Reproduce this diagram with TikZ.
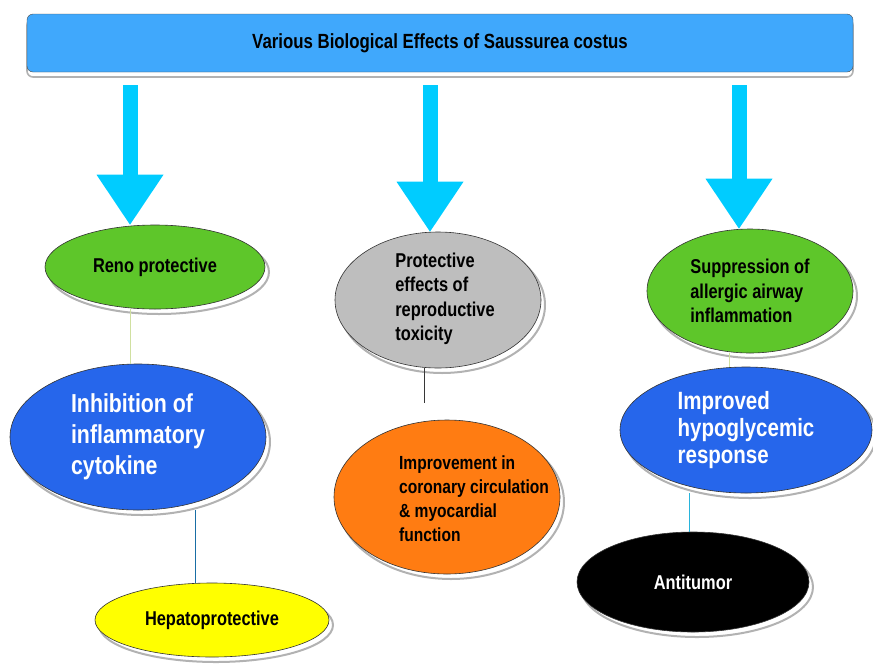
\documentclass[tikz,border=0pt]{standalone}
\usepackage{fontspec}
\setmainfont{Liberation Sans}[FakeStretch=0.82]
\usetikzlibrary{shapes.geometric,shadows,arrows.meta}

\definecolor{bannerblue}{RGB}{64,168,252}
\definecolor{arrowcyan}{RGB}{0,204,255}
\definecolor{leafgreen}{RGB}{94,198,42}
\definecolor{effectblue}{RGB}{38,102,235}
\definecolor{effectorange}{RGB}{255,124,18}
\definecolor{effectgray}{RGB}{190,190,190}
\definecolor{effectyellow}{RGB}{255,255,0}
\definecolor{linkpale}{RGB}{208,224,160}
\definecolor{linkteal}{RGB}{25,110,165}
\definecolor{linkdark}{RGB}{55,55,55}
\definecolor{linkcyan}{RGB}{40,180,220}

\tikzset{
  effect/.style={ellipse, draw=black!80, line width=0.6pt, inner sep=0pt,
    align=left, font=\bfseries\fontsize{20}{24.5}\selectfont,
    copy shadow={shadow xshift=4pt, shadow yshift=-5pt, fill=white,
      draw=black!30, line width=2pt}},
  bigarrow/.style={line width=15pt, arrowcyan,
    -{Triangle[length=50pt,width=67pt,line width=0pt]}},
  link/.style={line width=0.7pt}
}

\begin{document}
\begin{tikzpicture}[x=1pt,y=-1pt]
  \useasboundingbox (0,0) rectangle (873,665);

  %% Title banner
  \node[draw=black!70, fill=bannerblue, rounded corners=6pt, inner sep=0pt,
    minimum width=826pt, minimum height=58pt,
    font=\bfseries\fontsize{20.5}{24}\selectfont,
    copy shadow={shadow xshift=0pt, shadow yshift=-5pt, fill=white,
      draw=gray!60, line width=1.6pt}]
    (banner) at (440,43) {Various Biological Effects of Saussurea costus};

  %% Column positions of the big arrows
  \coordinate (colA) at (130,0);
  \coordinate (colB) at (430,0);
  \coordinate (colC) at (739,0);

  %% Effects, left column
  \node[effect, fill=leafgreen, minimum width=220pt, minimum height=84pt]
    (reno) at (155,267) {Reno protective};
  \node[effect, fill=effectblue, text=white, minimum width=256pt, minimum height=146pt,
    font=\bfseries\fontsize{26}{31}\selectfont]
    (inhib) at (138,437) {Inhibition of\\inflammatory\\cytokine};
  \node[effect, fill=effectyellow, minimum width=234pt, minimum height=74pt]
    (hepato) at (212,620) {Hepatoprotective};

  %% Effects, middle column
  \node[effect, fill=effectgray, minimum width=206pt, minimum height=136pt]
    (repro) at (438,300) {};
  \node[align=left, font=\bfseries\fontsize{20}{24.5}\selectfont]
    (reprotext) at (445,299) {Protective\\effects of\\reproductive\\toxicity};
  \node[effect, fill=effectorange, minimum width=226pt, minimum height=154pt]
    (coronary) at (447,497) {};
  \node[align=left, font=\bfseries\fontsize{19}{24}\selectfont]
    (coronarytext) at (474,499) {Improvement in\\coronary circulation\\\& myocardial\\function};

  %% Effects, right column
  \node[effect, fill=leafgreen, minimum width=206pt, minimum height=124pt]
    (airway) at (750,291) {Suppression of\\allergic airway\\inflammation};
  \node[effect, fill=effectblue, text=white, minimum width=252pt, minimum height=126pt,
    font=\bfseries\fontsize{25}{27}\selectfont]
    (hypo) at (746,430) {Improved\\hypoglycemic\\response};
  \node[effect, fill=black, text=white, minimum width=232pt, minimum height=100pt]
    (antitumor) at (693,582) {Antitumor};

  %% Big arrows from the banner
  \foreach \col/\dst in {colA/reno, colB/repro, colC/airway}
  {
    \draw[bigarrow, shorten <=13pt] (banner.south -| \col) -- (\dst.north -| \col);
  }

  %% Thin links between effects
  \coordinate (linkA) at (130,0);
  \coordinate (linkB) at (195,0);
  \coordinate (linkC) at (424,0);
  \coordinate (linkD) at (729,0);
  \coordinate (linkE) at (689,0);
  \draw[link, linkpale] (reno.south -| linkA) -- (inhib.north -| linkA);
  \draw[link, linkteal] (inhib.south -| linkB) -- (hepato.north -| linkB);
  \draw[link, linkdark, shorten >=17pt] (repro.south -| linkC) -- (coronary.north -| linkC);
  \draw[link, linkpale] (airway.south -| linkD) -- (hypo.north -| linkD);
  \draw[link, linkcyan] (hypo.south -| linkE) -- (antitumor.north -| linkE);
\end{tikzpicture}
\end{document}
